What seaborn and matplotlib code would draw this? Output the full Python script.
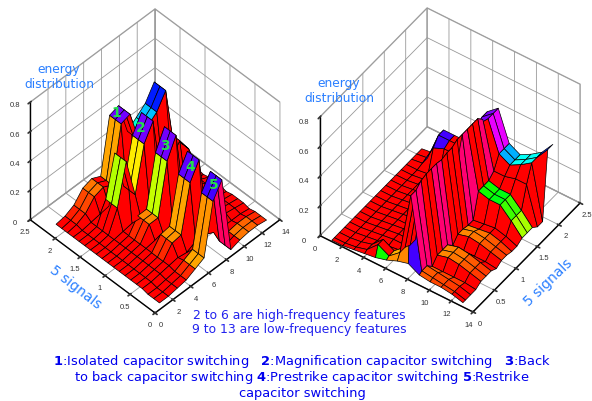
import numpy as np
import matplotlib
matplotlib.use('Agg')
import matplotlib.pyplot as plt
import seaborn as sns

sns.set_theme(style='white')
plt.rcParams['font.family'] = ['DejaVu Sans']
plt.rcParams['mathtext.fontset'] = 'dejavusans'

# feature number along x, 5 signals along y
features = [1, 2, 3, 4, 5, 6, 7, 8, 9, 10, 11, 12, 13]
left_y = [.09, .205, .32, .435, .55, .665, .78, .895, 1.01, 1.125, 1.24, 1.355, 1.47,
          1.585, 1.70, 1.815, 1.93, 2.045, 2.16]
right_y = [.02, .08, .20, .32, .44, .56, .68, .80, .92, 1.04, 1.16, 1.28, 1.40,
           1.52, 1.64, 1.76, 1.88, 2.00, 2.12]

x_ticks = [0, 2, 4, 6, 8, 10, 12, 14]
y_ticks = [0, 0.5, 1, 1.5, 2, 2.5]
y_tick_labels = ['0', '0.5', '1', '1.5', '2', '2.5']
z_ticks = [0, 0.2, 0.4, 0.6, 0.8]
z_tick_labels = ['0', '0.2', '0.4', '0.6', '0.8']

# left surface, heights per signal
sig1_z = [.01, .02, .05, .12, .14, .11, .48, .50, .28, .33, .38, .48, .02]
sig2_z = [.01, .01, .02, .16, .43, .16, .46, .57, .10, .22, .30, .20, .02]
sig3_z = [.01, .01, .02, .03, .12, .12, .46, .59, .05, .12, .10, .05, .02]
sig4_z = [.01, .01, .02, .03, .11, .12, .43, .54, .04, .05, .04, .03, .02]
sig5_z = [.00, .00, .01, .02, .05, .08, .42, .52, .00, .02, .03, .03, .02]
gap_z = [.01, .01, .02, .03, .04, .03, .06, .06, .03, .02, .02, .02, .01]

# left surface, hsv colour position of each face
sig1_c = [0, .02, .05, .08, 0, .11, .75, 0, .48, .55, .66, 0]
sig2_c = [0, 0, 0, .22, 0, .16, .75, 0, .35, 0, 0, 0]
sig3_c = [0, 0, 0, .03, .09, .21, .75, 0, 0, 0, 0, 0]
sig4_c = [0, 0, 0, .03, .10, .11, .74, 0, 0, 0, 0, 0]
sig5_c = [0, 0, 0, .03, .11, .10, .72, .95, 0, .08, .07, .03]
gap_c = [0, 0, 0, 0, 0, 0, 0, 0, 0, 0, 0, 0]

left_rows = [sig5_z, sig5_z, sig5_z, gap_z, sig4_z, sig4_z, sig4_z, gap_z,
             sig3_z, sig3_z, sig3_z, gap_z, sig2_z, sig2_z, sig2_z, gap_z,
             sig1_z, sig1_z, sig1_z]
left_strips = [sig5_c, sig5_c, gap_c, gap_c, sig4_c, sig4_c, gap_c, gap_c,
               sig3_c, sig3_c, gap_c, gap_c, sig2_c, sig2_c, gap_c, gap_c,
               sig1_c, sig1_c]

# right surface
front_z = [.00, .00, .01, .02, .03, .05, .08, .10, .06, .05, .05, .04, .02]
edge_z = [.00, .00, .01, .03, .10, .06, .12, .54, .07, .06, .05, .04, .02]
low_z = [.00, .00, .01, .02, .02, .03, .10, .57, .03, .03, .03, .03, .02]
bump_z = [.00, .00, .01, .02, .03, .03, .10, .58, .07, .09, .08, .06, .04]
rise_z = [.00, .00, .01, .02, .03, .04, .15, .60, .06, .07, .08, .06, .03]
green_z = [.00, .00, .01, .02, .03, .05, .20, .60, .22, .20, .20, .13, .05]
wall_z = [.00, .00, .01, .04, .08, .10, .30, .56, .25, .25, .27, .27, .02]
foot_z = [.00, .01, .15, .18, .18, .18, .45, .53, .33, .29, .33, .38, .02]
ridge_z = [.00, .01, .20, .20, .20, .20, .47, .53, .33, .29, .33, .38, .47]

front_c = [0, 0, 0, 0, .33, .10, .09, .72, .06, .05, .04, 0]
edge_c = [0, 0, 0, 0, 0, .12, 0, .94, .06, .05, .04, 0]
red_c = [0, 0, 0, 0, 0, 0, 0, 0, 0, 0, 0, 0]
bump_c = [0, 0, 0, 0, 0, 0, 0, 0, .09, .08, .06, .04]
green_top_c = [0, 0, 0, 0, 0, 0, 0, 0, .33, .35, .30, .23]
foot_c = [0, .72, .72, 0, 0, 0, .76, .83, .56, .50, .50, 0]
ridge_c = [0, .72, .72, 0, 0, 0, .76, .83, .56, .50, .50, .65]

right_rows = [front_z, edge_z, edge_z, low_z, bump_z, bump_z, bump_z, low_z,
              bump_z, bump_z, rise_z, rise_z, green_z, green_z, green_z,
              wall_z, foot_z, ridge_z, ridge_z]
right_strips = [front_c, edge_c, edge_c, red_c, bump_c, bump_c, red_c, red_c,
                bump_c, bump_c, red_c, red_c, green_top_c, green_top_c,
                red_c, red_c, foot_c, ridge_c]
# colour of the tall face falling from feature 8 to 9, strip by strip
wall_c = [.72, .94, .94, 0, 0, .94, .94, 0, 0, 0, .94, .94, 0, 0, .94, 0, .83, .83]

cmap = sns.color_palette('hsv', as_cmap=True)
blue = '#2a7fff'


def draw(rect, x, y, rows, strips, azim, elev, aspect, zoom, z_side):
    ax = fig.add_axes(rect, projection='3d')
    ax.set_proj_type('ortho')
    ax.view_init(elev=elev, azim=azim)
    ax.set_box_aspect(aspect, zoom=zoom)
    X, Y = np.meshgrid(x, y)
    Z = np.array(rows)
    ax.plot_surface(X, Y, Z, facecolors=cmap(np.array(strips, dtype=float)),
                    rstride=1, cstride=1, shade=False, edgecolor='black', linewidth=0.5)
    ax.set_xlim(0, 14, view_margin=0)
    ax.set_ylim(0, 2.5, view_margin=0)
    ax.set_zlim(0, 0.8, view_margin=0)
    ax.set_xticks(x_ticks)
    ax.set_yticks(y_ticks)
    ax.set_yticklabels(y_tick_labels)
    ax.set_zticks(z_ticks)
    ax.set_zticklabels(z_tick_labels)
    ax.tick_params(labelsize=5.5, pad=-3, colors='#333333', labelfontfamily='Liberation Sans')
    ax.tick_params(axis='z', pad=-1)
    ax.zaxis.set_ticks_position(z_side)
    for axis in [ax.xaxis, ax.yaxis, ax.zaxis]:
        axis.pane.set_facecolor('white')
        axis.pane.set_edgecolor('#777777')
        axis.line.set_color('black')
        axis.line.set_linewidth(1.0)
        axis._axinfo['grid']['color'] = '#999999'
        axis._axinfo['grid']['linewidth'] = 0.6
    return ax


fig = plt.figure(figsize=(5.92, 4.01), dpi=100)
fig.patch.set_facecolor('white')

h = 401.0
w = 592.0
draw([1 / w, 1 - 325 / h, 300 / w, 320 / h], features, left_y, left_rows, left_strips,
     -135, 48.3, (1, 1, 1), 0.99, 'upper')
right_c = [list(s) for s in right_strips]
for i, v in enumerate(wall_c):
    right_c[i][7] = v
draw([296 / w, 1 - 324 / h, 300 / w, 320 / h], features, right_y, right_rows, right_c,
     -55, 45.4, (1, 1, 0.906), 1.015, 'lower')

# labels on the peaks
peak_names = ['1', '2', '3', '4', '5']
peak_px = [(116, 113), (141, 128), (165, 146), (190, 167), (214, 185)]
for name, (px, py) in zip(peak_names, peak_px):
    fig.text(px / w, 1 - py / h, name, color='#22e04a', fontsize=10, fontweight='bold',
             ha='center', va='center')

fig.text(59 / w, 1 - 69 / h, 'energy', color=blue, fontsize=8.8, ha='center', va='center')
fig.text(59 / w, 1 - 84 / h, 'distribution', color=blue, fontsize=8.8, ha='center', va='center')
fig.text(339 / w, 1 - 84 / h, 'energy', color=blue, fontsize=8.8, ha='center', va='center')
fig.text(339 / w, 1 - 99 / h, 'distribution', color=blue, fontsize=8.8, ha='center', va='center')
fig.text(75 / w, 1 - 287 / h, '5 signals', color=blue, fontsize=10, rotation=-38, ha='center', va='center')
fig.text(548 / w, 1 - 283 / h, '5 signals', color=blue, fontsize=10, rotation=44, ha='center', va='center')

fig.text(299 / w, 1 - 316 / h, '2 to 6 are high-frequency features', color='#2222ee', fontsize=8.9, ha='center', va='center')
fig.text(299 / w, 1 - 330 / h, '9 to 13 are low-frequency features', color='#2222ee', fontsize=8.9, ha='center', va='center')

caption = [r'$\mathbf{1}$:Isolated capacitor switching   $\mathbf{2}$:Magnification capacitor switching   $\mathbf{3}$:Back',
           r'to back capacitor switching $\mathbf{4}$:Prestrike capacitor switching $\mathbf{5}$:Restrike',
           'capacitor switching']
caption_y = [361, 377, 393]
for line, py in zip(caption, caption_y):
    fig.text(302 / w, 1 - py / h, line, color='#0000ee', fontsize=9.4, ha='center', va='center')

fig.savefig('out.png', dpi=100)
